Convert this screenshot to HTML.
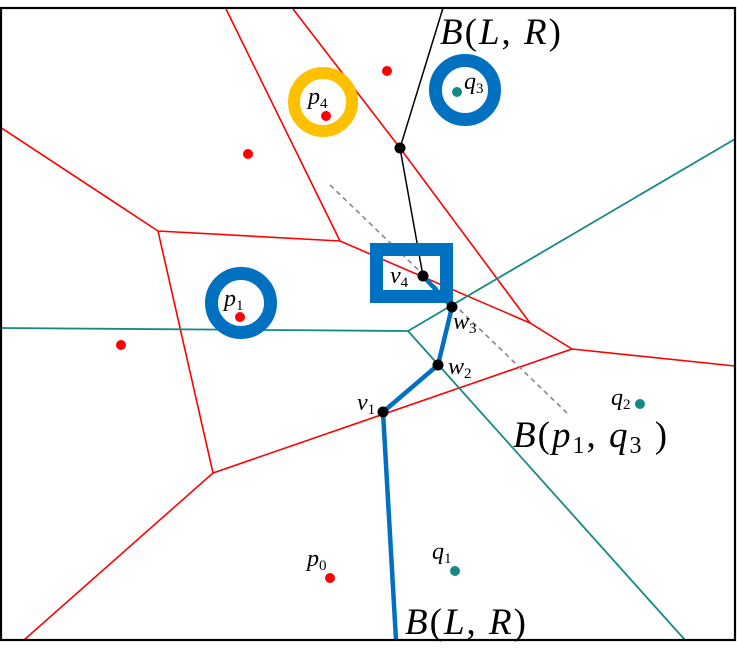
<!DOCTYPE html>
<html><head><style>html,body{margin:0;padding:0;background:#fff;}svg{display:block}
text{font-family:"Liberation Serif",serif;font-style:italic;fill:#000}</style></head>
<body>
<svg width="737" height="661" viewBox="0 0 737 661" xmlns="http://www.w3.org/2000/svg">
<rect x="0" y="0" width="737" height="661" fill="#fff"/>
<g stroke="#f00" stroke-width="1.6" fill="none">
<polyline points="226,9 340,241 530,323 572,349 735,366"/>
<polyline points="293,9 400,148 530,323"/>
<polyline points="0,127 158,231 340,241"/>
<polyline points="158,231 213,473 24,640"/>
<polyline points="213,473 572,349"/>
</g>
<g stroke="#158a85" stroke-width="1.8" fill="none">
<polyline points="1,328 408,331 735,139"/>
<polyline points="408,331 685,640"/>
</g>
<line x1="330" y1="185" x2="567" y2="413" stroke="#888" stroke-width="1.6" stroke-dasharray="5,4"/>
<polyline points="423,276 400,148 443,8" stroke="#000" stroke-width="1.5" fill="none"/>
<polyline points="396,640 383,412 438,365 452,307 423,276" stroke="#0070c0" stroke-width="4.5" fill="none" stroke-linejoin="round"/>
<rect x="376.5" y="249.5" width="70" height="47" fill="none" stroke="#0070c0" stroke-width="13"/>
<circle cx="323" cy="102" r="29" fill="none" stroke="#ffc000" stroke-width="12"/>
<circle cx="465" cy="90" r="29.5" fill="none" stroke="#0070c0" stroke-width="13"/>
<circle cx="241" cy="303" r="29.5" fill="none" stroke="#0070c0" stroke-width="13"/>
<g fill="#f00">
<circle cx="387" cy="71" r="5"/><circle cx="326" cy="116" r="5"/><circle cx="248" cy="154" r="5"/>
<circle cx="240" cy="317" r="5"/><circle cx="121" cy="345" r="5"/><circle cx="330" cy="578" r="5"/>
</g>
<g fill="#158a85">
<circle cx="457" cy="92" r="5"/><circle cx="640" cy="404" r="5"/><circle cx="455" cy="571" r="5"/>
</g>
<g fill="#000">
<circle cx="400" cy="148" r="5.5"/><circle cx="423" cy="276" r="5.5"/><circle cx="452" cy="307" r="5.5"/>
<circle cx="438" cy="365" r="5.5"/><circle cx="383" cy="412" r="5.5"/>
</g>
<rect x="1" y="8" width="734" height="632" fill="none" stroke="#000" stroke-width="2.2"/>
<g font-size="24">
<text x="308" y="104">p<tspan font-size="15" font-style="normal" dy="4">4</tspan></text>
<text x="464" y="89">q<tspan font-size="15" font-style="normal" dy="4">3</tspan></text>
<text x="224" y="306">p<tspan font-size="15" font-style="normal" dy="4">1</tspan></text>
<text x="390" y="283">v<tspan font-size="15" font-style="normal" dy="4">4</tspan></text>
<text x="357" y="410">v<tspan font-size="15" font-style="normal" dy="4">1</tspan></text>
<text x="453" y="329">w<tspan font-size="15" font-style="normal" dy="4">3</tspan></text>
<text x="448" y="374">w<tspan font-size="15" font-style="normal" dy="4">2</tspan></text>
<text x="611" y="405">q<tspan font-size="15" font-style="normal" dy="4">2</tspan></text>
<text x="432" y="559">q<tspan font-size="15" font-style="normal" dy="4">1</tspan></text>
<text x="307" y="566">p<tspan font-size="15" font-style="normal" dy="4">0</tspan></text>
</g>
<text x="440" y="44" font-size="37" letter-spacing="2">B<tspan font-style="normal">(</tspan>L<tspan font-style="normal">, </tspan>R<tspan font-style="normal">)</tspan></text>
<text x="405" y="634" font-size="37" letter-spacing="2">B<tspan font-style="normal">(</tspan>L<tspan font-style="normal">, </tspan>R<tspan font-style="normal">)</tspan></text>
<text x="513" y="447" font-size="37" letter-spacing="2">B<tspan font-style="normal">(</tspan>p<tspan font-size="24" font-style="normal" dy="6">1</tspan><tspan font-style="normal" dy="-6">, </tspan>q<tspan font-size="24" font-style="normal" dy="6">3</tspan><tspan font-style="normal" dy="-6"> )</tspan></text>
</svg>
</body></html>
